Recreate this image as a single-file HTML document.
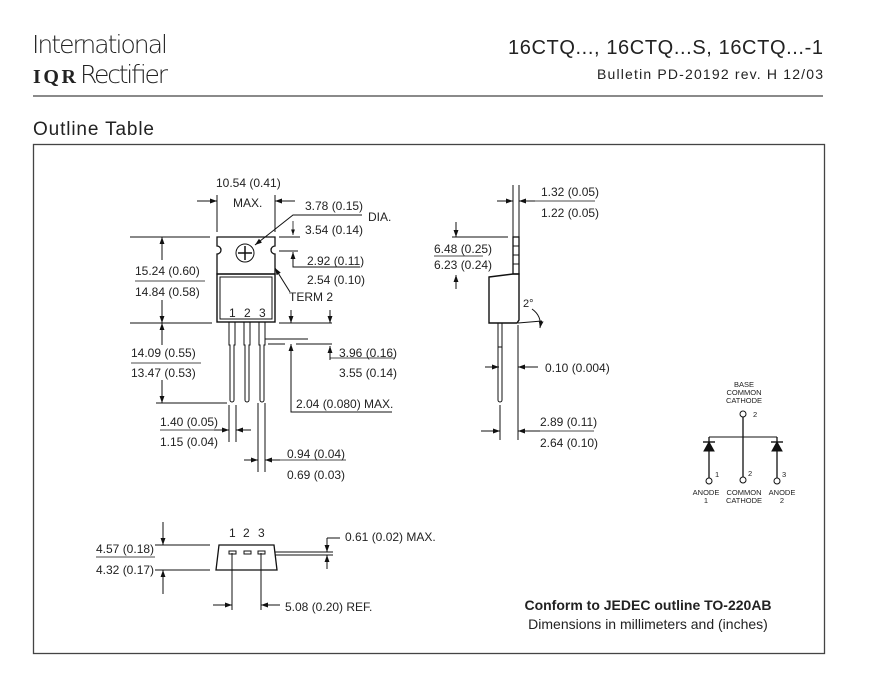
<!DOCTYPE html>
<html><head><meta charset="utf-8"><style>
html,body{margin:0;padding:0;background:#fff;}
svg{display:block;}
text{font-family:"Liberation Sans",Arial,sans-serif;fill:#222;}
</style></head><body>
<svg width="869" height="676" viewBox="0 0 869 676" xmlns="http://www.w3.org/2000/svg">
<defs>
<marker id="a" viewBox="0 0 10 10" refX="10" refY="5" markerWidth="7" markerHeight="7" orient="auto-start-reverse"><path d="M0,1.5 L10,5 L0,8.5 z" fill="#111"/></marker>
</defs>
<!-- header -->
<text x="32" y="53" font-size="25" style="font-family:'DejaVu Sans','Liberation Sans',sans-serif;font-weight:200" textLength="136">International</text>
<text x="33" y="83" font-size="20" font-weight="bold" style="font-family:'Liberation Serif',serif" textLength="43">IQR</text>
<text x="80" y="83" font-size="25" style="font-family:'DejaVu Sans','Liberation Sans',sans-serif;font-weight:200" textLength="88">Rectifier</text>
<text x="823" y="54" font-size="20" text-anchor="end" textLength="315">16CTQ...,  16CTQ...S,  16CTQ...-1</text>
<text x="823" y="79" font-size="14" text-anchor="end" textLength="226">Bulletin  PD-20192  rev. H  12/03</text>
<line x1="33" y1="96" x2="823" y2="96" stroke="#444" stroke-width="1.2"/>
<text x="33" y="135" font-size="19" textLength="121">Outline  Table</text>
<rect x="33.5" y="144.5" width="791" height="509" fill="none" stroke="#444" stroke-width="1.3"/>

<g stroke="#111" stroke-width="1" fill="none">
<!-- front view package -->
<path d="M217,237 H275 V246 A4,4 0 0 0 275,254 V274 H217 V254 A4,4 0 0 0 217,246 Z" stroke-width="1.3"/>
<rect x="217" y="274" width="58" height="48" stroke-width="1.4"/>
<rect x="220" y="277" width="52" height="42"/>
<circle cx="245" cy="253" r="9"/>
<line x1="238" y1="253" x2="252" y2="253" stroke-width="1.5"/>
<line x1="245" y1="246" x2="245" y2="260" stroke-width="1.5"/>
<!-- leads -->
<path d="M229,322 V345 H230 V400 A2,2 0 0 0 234,400 V345 H235 V322"/>
<path d="M244,322 V345 H245 V400 A2,2 0 0 0 249,400 V345 H250 V322"/>
<path d="M259,322 V345 H260 V400 A2,2 0 0 0 264,400 V345 H265 V322"/>
<!-- dims front -->
<line x1="217" y1="195" x2="217" y2="232"/><line x1="275" y1="195" x2="275" y2="232"/>
<line x1="197" y1="201" x2="217" y2="201" marker-end="url(#a)"/>
<line x1="295" y1="201" x2="275" y2="201" marker-end="url(#a)"/>
<path d="M362,215 H293 L255,245" marker-end="url(#a)"/>
<line x1="293" y1="221" x2="293" y2="235" marker-end="url(#a)" stroke-width="0.8"/>
<line x1="279" y1="237" x2="300" y2="237"/>
<line x1="279" y1="251" x2="298" y2="251"/>
<path d="M360,267 H293 V252" marker-end="url(#a)"/>
<line x1="290" y1="292" x2="275" y2="268" marker-end="url(#a)"/>
<!-- left vertical -->
<line x1="130" y1="237" x2="210" y2="237"/><line x1="130" y1="323" x2="212" y2="323"/>
<line x1="162" y1="260" x2="162" y2="237" marker-end="url(#a)"/>
<line x1="162" y1="300" x2="162" y2="323" marker-end="url(#a)"/>
<line x1="162" y1="345" x2="162" y2="323" marker-end="url(#a)"/>
<line x1="162" y1="380" x2="162" y2="403" marker-end="url(#a)"/>
<line x1="156" y1="403" x2="227" y2="403"/>
<line x1="135" y1="281" x2="205" y2="281" stroke-width="0.8"/>
<line x1="131" y1="363" x2="201" y2="363" stroke-width="0.8"/>
<!-- right of leads -->
<line x1="279" y1="323" x2="332" y2="323"/>
<line x1="291" y1="310" x2="291" y2="323" marker-end="url(#a)"/>
<line x1="330" y1="310" x2="330" y2="323" marker-end="url(#a)"/>
<line x1="265" y1="339" x2="308" y2="339"/>
<line x1="268" y1="344" x2="285" y2="344"/><line x1="296" y1="344" x2="332" y2="344"/>
<line x1="291" y1="358" x2="291" y2="344" marker-end="url(#a)"/>
<path d="M330,360 V346" marker-end="url(#a)"/>
<line x1="330" y1="358" x2="395" y2="358" stroke-width="0.8"/>
<path d="M291,358 V412 H392"/>
<!-- lead width dims -->
<line x1="229" y1="405" x2="229" y2="442"/><line x1="236" y1="405" x2="236" y2="442"/>
<line x1="214" y1="430" x2="229" y2="430" marker-end="url(#a)"/>
<line x1="251" y1="430" x2="236" y2="430" marker-end="url(#a)"/>
<line x1="160" y1="430" x2="222" y2="430" stroke-width="0.8"/>
<line x1="258" y1="403" x2="258" y2="472"/><line x1="265" y1="403" x2="265" y2="472"/>
<line x1="244" y1="460" x2="258" y2="460" marker-end="url(#a)"/>
<line x1="280" y1="460" x2="265" y2="460" marker-end="url(#a)"/>
<line x1="280" y1="460" x2="346" y2="460" stroke-width="0.8"/>

<!-- side view -->
<rect x="513" y="237" width="6" height="37" stroke-width="1.3"/>
<line x1="513" y1="246" x2="519" y2="246"/><line x1="513" y1="255" x2="519" y2="255"/><line x1="513" y1="264" x2="519" y2="264"/>
<path d="M489,277 L513,274 H519 V320 L517,323 H489 Z" stroke-width="1.4"/>
<path d="M498,323 V400 A2,2 0 0 0 502,400 V323 M498,347 H502"/>
<line x1="513" y1="185" x2="513" y2="237"/><line x1="519" y1="185" x2="519" y2="237"/>
<line x1="497" y1="201" x2="513" y2="201" marker-end="url(#a)"/>
<line x1="535" y1="201" x2="519" y2="201" marker-end="url(#a)"/>
<line x1="535" y1="201" x2="595" y2="201" stroke-width="0.8"/>
<line x1="452" y1="237" x2="508" y2="237"/>
<line x1="456" y1="222" x2="456" y2="237" marker-end="url(#a)"/>
<line x1="456" y1="289" x2="456" y2="275" marker-end="url(#a)"/>
<line x1="434" y1="256" x2="483" y2="256" stroke-width="0.8"/>
<line x1="518" y1="325" x2="518" y2="440"/>
<line x1="500" y1="405" x2="500" y2="440"/>
<line x1="518" y1="323" x2="542" y2="321"/>
<path d="M532,309 Q542,316 540,328" marker-end="url(#a)"/>
<line x1="485" y1="367" x2="499" y2="367" marker-end="url(#a)"/>
<line x1="538" y1="367" x2="518" y2="367" marker-end="url(#a)"/>
<line x1="481" y1="431" x2="500" y2="431" marker-end="url(#a)"/>
<line x1="540" y1="431" x2="518" y2="431" marker-end="url(#a)"/>
<line x1="540" y1="431" x2="594" y2="431" stroke-width="0.8"/>

<!-- schematic -->
<circle cx="743" cy="414" r="3"/>
<line x1="743" y1="417" x2="743" y2="477" stroke-width="1.3"/>
<line x1="709" y1="437" x2="777" y2="437"/>
<line x1="709" y1="437" x2="709" y2="478" stroke-width="1.3"/>
<line x1="777" y1="437" x2="777" y2="478" stroke-width="1.3"/>
<line x1="703" y1="442" x2="715" y2="442" stroke-width="1.4"/>
<line x1="771" y1="442" x2="783" y2="442" stroke-width="1.4"/>
<path d="M709,442 L704,451 H714 Z M777,442 L772,451 H782 Z" fill="#111"/>
<circle cx="709" cy="481" r="3"/><circle cx="743" cy="480" r="3"/><circle cx="777" cy="481" r="3"/>

<!-- bottom view -->
<path d="M219,545 H274 L277,570 H216 Z" stroke-width="1.3"/>
<rect x="229" y="551" width="7" height="3"/><rect x="244" y="551" width="7" height="3"/><rect x="258" y="551" width="7" height="3"/>
<line x1="275" y1="552" x2="333" y2="552"/><line x1="275" y1="555" x2="333" y2="555"/>
<line x1="327" y1="538" x2="327" y2="552" marker-end="url(#a)"/>
<line x1="327" y1="569" x2="327" y2="555" marker-end="url(#a)"/>
<line x1="327" y1="538" x2="340" y2="538"/>
<line x1="155" y1="545" x2="210" y2="545"/><line x1="155" y1="570" x2="210" y2="570"/>
<line x1="163" y1="522" x2="163" y2="545" marker-end="url(#a)"/>
<line x1="163" y1="594" x2="163" y2="570" marker-end="url(#a)"/>
<line x1="96" y1="557" x2="155" y2="557" stroke-width="0.8"/>
<line x1="232" y1="553" x2="232" y2="610"/><line x1="261" y1="553" x2="261" y2="610"/>
<line x1="213" y1="605" x2="232" y2="605" marker-end="url(#a)"/>
<line x1="280" y1="605" x2="261" y2="605" marker-end="url(#a)"/>
</g>

<g font-size="12">
<text x="216" y="187">10.54 (0.41)</text>
<text x="233" y="207">MAX.</text>
<text x="305" y="210">3.78 (0.15)</text>
<text x="368" y="221">DIA.</text>
<text x="305" y="234">3.54 (0.14)</text>
<text x="307" y="265">2.92 (0.11)</text>
<text x="307" y="284">2.54 (0.10)</text>
<text x="289" y="301">TERM 2</text>
<text x="229" y="317">1</text><text x="244" y="317">2</text><text x="259" y="317">3</text>
<text x="135" y="275">15.24 (0.60)</text>
<text x="135" y="296">14.84 (0.58)</text>
<text x="131" y="357">14.09 (0.55)</text>
<text x="131" y="377">13.47 (0.53)</text>
<text x="339" y="357">3.96 (0.16)</text>
<text x="339" y="377">3.55 (0.14)</text>
<text x="296" y="408">2.04 (0.080) MAX.</text>
<text x="160" y="426">1.40 (0.05)</text>
<text x="160" y="446">1.15 (0.04)</text>
<text x="287" y="458">0.94 (0.04)</text>
<text x="287" y="479">0.69 (0.03)</text>
<text x="541" y="196">1.32 (0.05)</text>
<text x="541" y="217">1.22 (0.05)</text>
<text x="434" y="253">6.48 (0.25)</text>
<text x="434" y="269">6.23 (0.24)</text>
<text x="523" y="307" font-size="11">2°</text>
<text x="545" y="372">0.10 (0.004)</text>
<text x="540" y="426">2.89 (0.11)</text>
<text x="540" y="447">2.64 (0.10)</text>
<text x="229" y="537">1</text><text x="243" y="537">2</text><text x="258" y="537">3</text>
<text x="345" y="541">0.61 (0.02) MAX.</text>
<text x="96" y="553">4.57 (0.18)</text>
<text x="96" y="574">4.32 (0.17)</text>
<text x="285" y="611">5.08 (0.20) REF.</text>
</g>
<g font-size="7.5" text-anchor="middle">
<text x="744" y="387">BASE</text><text x="744" y="395">COMMON</text><text x="744" y="403">CATHODE</text>
<text x="753" y="417" text-anchor="start">2</text>
<text x="715" y="477" text-anchor="start">1</text><text x="748" y="476" text-anchor="start">2</text><text x="782" y="477" text-anchor="start">3</text>
<text x="706" y="495">ANODE</text><text x="706" y="503">1</text>
<text x="744" y="495">COMMON</text><text x="744" y="503">CATHODE</text>
<text x="782" y="495">ANODE</text><text x="782" y="503">2</text>
</g>
<text x="648" y="610" font-size="14" font-weight="bold" text-anchor="middle">Conform to JEDEC outline TO-220AB</text>
<text x="648" y="629" font-size="14" text-anchor="middle">Dimensions in millimeters and (inches)</text>
</svg>
</body></html>
